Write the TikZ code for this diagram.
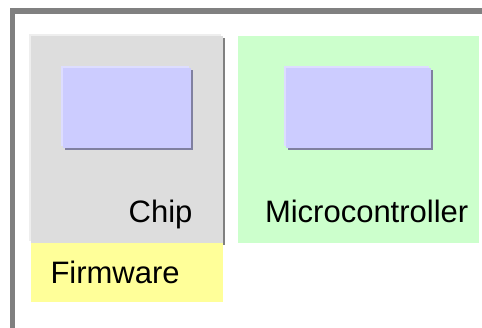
\documentclass[tikz,border=0pt]{standalone}
\usepackage{fontspec}
\setmainfont{Liberation Sans}
\definecolor{framegray}{HTML}{808080}
\definecolor{chipgray}{HTML}{DDDDDD}
\definecolor{chiplight}{HTML}{EEEEEE}
\definecolor{chipshadow}{HTML}{808080}
\definecolor{bluemain}{HTML}{CCCCFF}
\definecolor{bluelight}{HTML}{DDDDFF}
\definecolor{blueshadow}{HTML}{8080A0}
\definecolor{greenbox}{HTML}{CCFFCC}
\definecolor{yellowbox}{HTML}{FFFF99}
\begin{document}
\begin{tikzpicture}[x=1pt,y=-1pt,
  plainbox/.style={inner sep=0pt,outer sep=0pt,draw=none,anchor=north west},
  lbl/.style={inner sep=0pt,outer sep=0pt,font=\fontsize{31}{36}\selectfont,text=black}]
\useasboundingbox[fill=white] (0,0) rectangle (482,328);
% outer frame (top and left edges visible)
\fill[framegray] (10,8) rectangle (482,14);
\fill[framegray] (10,8) rectangle (15,328);
% chip box with 3D edges
\fill[chipshadow] (33,38) rectangle (225,245);
\fill[chiplight] (29,34) rectangle (221,241);
\node[plainbox,fill=chipgray,minimum width=192pt,minimum height=207pt] (chip) at (31,36) {};
% blue inner box of chip
\fill[blueshadow] (65,70) rectangle (193,150);
\fill[bluelight] (61,66) rectangle (189,146);
\node[plainbox,fill=bluemain,minimum width=128pt,minimum height=80pt] (chipblue) at (63,68) {};
% microcontroller box
\node[plainbox,fill=greenbox,minimum width=241pt,minimum height=207pt] (micro) at (238,36) {};
\fill[blueshadow] (288,70) rectangle (433,150);
\fill[bluelight] (284,66) rectangle (429,146);
\node[plainbox,fill=bluemain,minimum width=145pt,minimum height=80pt] (microblue) at (286,68) {};
% firmware box
\node[plainbox,fill=yellowbox,minimum width=192pt,minimum height=59pt] (firm) at (31,243) {};
% labels
\node[lbl,anchor=base east] (chiplbl) at (192.5,223) {Chip};
\node[lbl,anchor=base west] (microlbl) at (265,223) {Microcontroller};
\node[lbl,anchor=base west] (firmlbl) at (50.5,284) {Firmware};
\end{tikzpicture}
\end{document}
